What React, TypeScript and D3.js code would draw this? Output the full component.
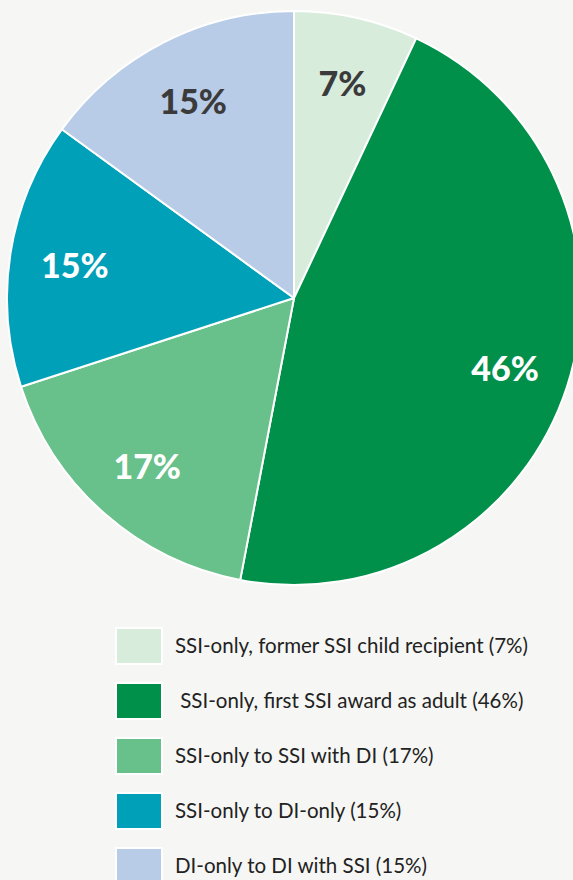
import React, { useEffect, useRef } from 'react';
import * as d3 from 'd3';

// 数据
const categories = [
  'SSI-only, former SSI child recipient (7%)',
  ' SSI-only, first SSI award as adult (46%)',
  'SSI-only to SSI with DI (17%)',
  'SSI-only to DI-only (15%)',
  'DI-only to DI with SSI (15%)',
];
const values = [7, 46, 17, 15, 15];
const sliceLabels = ['7%', '46%', '17%', '15%', '15%'];
const colors = ['#d8ecdc', '#00904a', '#68c08a', '#00a0b8', '#b8cce8'];
const labelColors = ['#3b3b3b', '#ffffff', '#ffffff', '#ffffff', '#3b3b3b'];

const W = 573;
const H = 880;

export default function App() {
  const ref = useRef<SVGSVGElement>(null);

  useEffect(() => {
    const svg = d3.select(ref.current);
    svg.selectAll('*').remove();

    svg.append('rect').attr('width', W).attr('height', H).attr('fill', '#f6f6f4');

    // 饼图
    const cx = 294;
    const cy = 298;
    const R = 287;
    const pie = d3.pie<number>().sort(null).value((d) => d);
    const arcs = pie(values);
    const arc = d3.arc<d3.PieArcDatum<number>>().innerRadius(0).outerRadius(R);
    const labelArc = d3.arc<d3.PieArcDatum<number>>().innerRadius(222).outerRadius(222);

    const g = svg.append('g').attr('transform', `translate(${cx},${cy})`);
    g.selectAll('path.slice')
      .data(arcs)
      .enter()
      .append('path')
      .attr('class', 'slice')
      .attr('d', arc)
      .attr('fill', (d, i) => colors[i])
      .attr('stroke', '#ffffff')
      .attr('stroke-width', 2)
      .attr('stroke-linejoin', 'round');

    g.selectAll('text.pct')
      .data(arcs)
      .enter()
      .append('text')
      .attr('class', 'pct')
      .attr('transform', (d) => {
        const [x, y] = labelArc.centroid(d);
        return `translate(${x},${y + 2})`;
      })
      .attr('text-anchor', 'middle')
      .attr('dy', '0.36em')
      .attr('font-family', 'Lato, sans-serif')
      .attr('font-weight', 900)
      .attr('font-size', 34)
      .attr('fill', (d, i) => labelColors[i])
      .text((d, i) => sliceLabels[i]);

    // 图例
    const legendX = 116;
    const legendY = 628;
    const rowH = 55;
    const legend = svg
      .append('g')
      .selectAll('g.legend')
      .data(categories)
      .enter()
      .append('g')
      .attr('class', 'legend')
      .attr('transform', (d, i) => `translate(${legendX},${legendY + i * rowH})`);

    legend
      .append('rect')
      .attr('width', 46)
      .attr('height', 36)
      .attr('fill', (d, i) => colors[i])
      .attr('stroke', '#ffffff')
      .attr('stroke-width', 2);

    legend
      .append('text')
      .attr('x', 59)
      .attr('y', 25)
      .attr('font-family', 'Lato, sans-serif')
      .attr('font-size', 20.5)
      .attr('fill', '#222222')
      .attr('xml:space', 'preserve')
      .style('white-space', 'pre')
      .text((d) => d);
  }, []);

  return (
    <svg
      ref={ref}
      width={W}
      height={H}
      style={{ position: 'absolute', left: 0, top: 0, display: 'block' }}
    />
  );
}
